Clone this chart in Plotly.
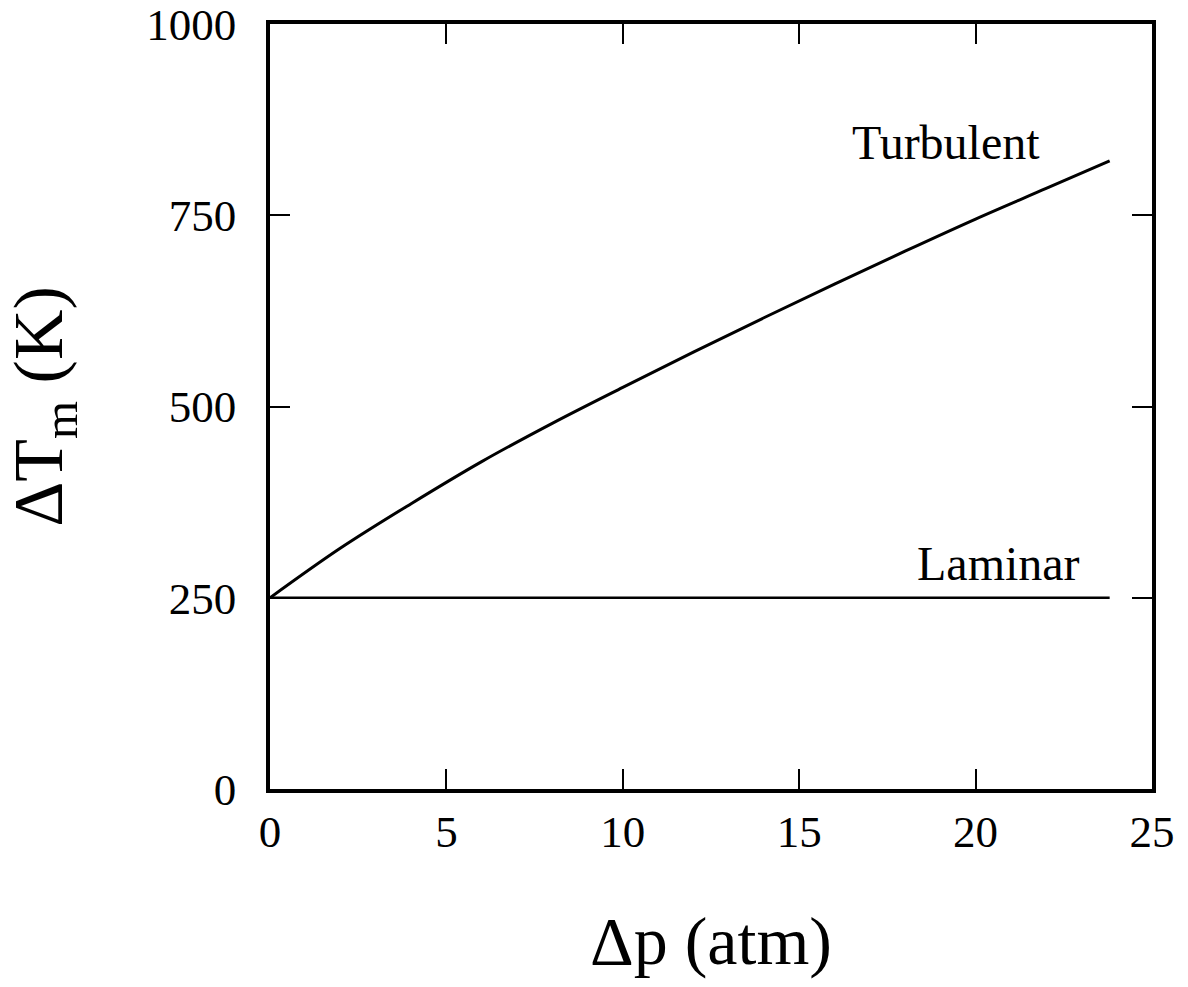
import plotly.graph_objects as go

# Data
turb_p = [0, 2, 4, 6, 8, 10, 12, 14, 16, 18, 20, 22, 23.8]
turb_T = [250, 315, 373, 428, 478, 525, 571, 616, 660, 703, 745, 785, 821]
lam_p = [0, 23.8]
lam_T = [250, 250]

x_ticks = [0, 5, 10, 15, 20, 25]
y_ticks = [0, 250, 500, 750, 1000]

FONT = "Liberation Serif, Times New Roman, serif"

fig = go.Figure()
fig.add_trace(go.Scatter(x=turb_p, y=turb_T, mode="lines", line=dict(color="black", width=3),
                         line_shape="spline", name="Turbulent", showlegend=False))
fig.add_trace(go.Scatter(x=lam_p, y=lam_T, mode="lines", line=dict(color="black", width=2.5),
                         name="Laminar", showlegend=False))

fig.add_annotation(x=19.15, y=845, text="Turbulent", showarrow=False,
                   font=dict(family=FONT, size=48, color="black"))
fig.add_annotation(x=20.65, y=295, text="Laminar", showarrow=False,
                   font=dict(family=FONT, size=48, color="black"))

axis_common = dict(showgrid=False, zeroline=False, showline=True, linecolor="black", linewidth=3.5,
                   mirror="allticks", ticks="inside", ticklen=20, tickwidth=2, tickcolor="black",
                   ticklabeloverflow="allow",
                   tickfont=dict(family=FONT, size=45, color="black"))

fig.update_xaxes(range=[0, 25], tickvals=x_ticks, ticktext=[str(v) for v in x_ticks],
                 ticklabelstandoff=0,
                 title=dict(text="Δp (atm)", font=dict(family=FONT, size=68, color="black"), standoff=62),
                 **axis_common)
fig.update_yaxes(range=[0, 1000], tickvals=y_ticks, ticktext=[str(v) for v in y_ticks],
                 ticklabelstandoff=21,
                 title=dict(text="ΔT<sub>m</sub> (K)", font=dict(family=FONT, size=70, color="black"), standoff=90),
                 **axis_common)

fig.update_layout(width=1188, height=987, paper_bgcolor="white", plot_bgcolor="white",
                  margin=dict(l=270, r=36, t=24, b=198, autoexpand=False),
                  font=dict(family=FONT, color="black"))

fig.write_html("out.html")
